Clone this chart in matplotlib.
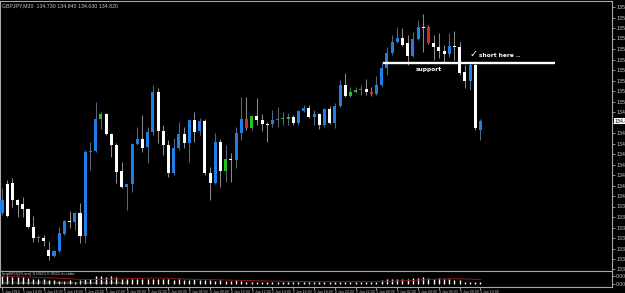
import matplotlib
matplotlib.use('Agg')
import matplotlib.pyplot as plt
import pandas as pd

# GBPJPY M30 candles
opens = [134.03, 133.87, 134.20, 134.03, 133.99, 133.94, 133.76, 133.65, 133.65, 133.53,
         133.47, 133.52, 133.69, 133.82, 133.81, 133.90, 133.67, 134.51, 134.52, 134.84,
         134.89, 134.69, 134.58, 134.32, 134.16, 134.19, 134.59, 134.64, 134.56, 134.71,
         135.11, 134.72, 134.58, 134.30, 134.55, 134.69, 134.60, 134.83, 134.72, 134.82,
         134.30, 134.20, 134.61, 134.32, 134.44, 134.43, 134.70, 134.84, 134.75, 134.87,
         134.83, 134.79, 134.79, 134.83, 134.84, 134.84, 134.86, 134.80, 134.92, 134.95,
         134.86, 134.89, 134.78, 134.94, 134.80, 134.97, 135.18, 135.07, 135.11, 135.13,
         135.14, 135.11, 135.09, 135.18, 135.35, 135.50, 135.61, 135.65, 135.60, 135.47,
         135.64, 135.76, 135.76, 135.60, 135.56, 135.52, 135.49, 135.57, 135.56, 135.31,
         135.22, 135.38, 134.73]
highs = [134.15, 134.23, 134.25, 134.04, 134.06, 133.95, 133.87, 133.68, 133.68, 133.62,
         133.53, 133.76, 133.83, 133.92, 133.91, 134.00, 134.53, 134.61, 135.01, 134.91,
         134.90, 134.70, 134.60, 134.41, 134.19, 134.60, 134.76, 134.88, 134.76, 135.18,
         135.15, 134.78, 134.63, 134.65, 134.81, 134.76, 134.83, 134.91, 134.85, 134.84,
         134.36, 134.70, 134.64, 134.58, 134.50, 134.76, 135.06, 135.06, 134.87, 135.05,
         134.89, 134.81, 134.93, 134.96, 134.91, 134.90, 134.88, 134.93, 134.98, 134.98,
         134.93, 134.90, 134.95, 134.97, 135.00, 135.23, 135.30, 135.16, 135.16, 135.18,
         135.24, 135.16, 135.27, 135.41, 135.56, 135.68, 135.76, 135.75, 135.68, 135.71,
         135.83, 135.89, 135.78, 135.68, 135.70, 135.58, 135.70, 135.72, 135.61, 135.38,
         135.40, 135.40, 134.84]
lows = [133.88, 133.86, 133.96, 133.86, 133.86, 133.75, 133.61, 133.61, 133.57, 133.43,
        133.46, 133.51, 133.68, 133.75, 133.73, 133.60, 133.60, 134.33, 134.51, 134.74,
        134.68, 134.46, 134.20, 134.15, 133.93, 134.11, 134.58, 134.51, 134.40, 134.68,
        134.60, 134.48, 134.26, 134.28, 134.53, 134.55, 134.41, 134.61, 134.68, 134.28,
        134.03, 134.19, 134.16, 134.21, 134.21, 134.35, 134.63, 134.73, 134.73, 134.78,
        134.72, 134.61, 134.76, 134.76, 134.78, 134.78, 134.78, 134.78, 134.91, 134.85,
        134.78, 134.74, 134.76, 134.79, 134.75, 134.96, 135.06, 135.06, 135.10, 135.08,
        135.08, 135.07, 135.08, 135.16, 135.28, 135.48, 135.60, 135.57, 135.38, 135.46,
        135.63, 135.51, 135.59, 135.43, 135.45, 135.41, 135.46, 135.43, 135.28, 135.15,
        135.13, 134.73, 134.63]
closes = [133.90, 134.19, 134.03, 133.98, 133.94, 133.76, 133.65, 133.66, 133.62, 133.47,
          133.52, 133.70, 133.82, 133.81, 133.90, 133.67, 134.51, 134.52, 134.84, 134.89,
          134.69, 134.58, 134.31, 134.16, 134.19, 134.59, 134.64, 134.55, 134.71, 135.11,
          134.72, 134.58, 134.30, 134.55, 134.69, 134.60, 134.83, 134.71, 134.82, 134.30,
          134.20, 134.61, 134.32, 134.44, 134.43, 134.70, 134.84, 134.75, 134.87, 134.83,
          134.79, 134.78, 134.83, 134.84, 134.85, 134.86, 134.80, 134.92, 134.95, 134.86,
          134.89, 134.78, 134.94, 134.80, 134.97, 135.18, 135.07, 135.11, 135.13, 135.14,
          135.11, 135.09, 135.18, 135.35, 135.50, 135.61, 135.65, 135.58, 135.47, 135.64,
          135.76, 135.75, 135.60, 135.56, 135.52, 135.49, 135.57, 135.56, 135.30, 135.22,
          135.38, 134.75, 134.82]
# b = up (blue), w = down (white), g / r = highlighted up / down
colours = list("bwwwwwwbww" "bbbwbwbbbg" "wwwwbbbwbb" "wwwbbwbwbw"
               "wbwgwbbrgw" "wwbbggwbbw" "bwbwbbwggb" "wrbbbbbwwb"
               "bwrwwwbwww" "bwb")

volumes = [0.0023, 0.0022, 0.0020, 0.0019, 0.0019, 0.0018,
           0.0016, 0.0015, 0.0014, 0.0012, 0.0012,
           0.00095, 0.00095, 0.0011, 0.0008, 0.0011,
           0.0016, 0.0015,
           0.0022, 0.0023, 0.0020, 0.0022, 0.0019,
           0.0016, 0.0016, 0.0015, 0.0016, 0.00135, 0.0016, 0.0015, 0.0016,
           0.00135, 0.00135, 0.0012, 0.00135, 0.0012, 0.0011, 0.00135, 0.0012,
           0.0011, 0.0011, 0.00095, 0.0011, 0.00095, 0.00095, 0.0011, 0.00095,
           0.0008, 0.0008, 0.0008, 0.0007, 0.0008, 0.0008, 0.0007, 0.0008, 0.0007,
           0.0008, 0.0008, 0.0007, 0.0008, 0.0007, 0.0008,
           0.0007, 0.0008, 0.0007, 0.0008, 0.0008, 0.0007, 0.0008, 0.0007, 0.0007,
           0.0008, 0.0008,
           0.0012, 0.00135, 0.00135, 0.0015, 0.00135, 0.0016,
           0.00175, 0.00175, 0.0019, 0.00175, 0.0016, 0.00175,
           0.0015, 0.00135, 0.0012, 0.0011,
           0.0008, 0.0008, 0.0007, 0.00055]

time_labels = ["1 Jun 2010", "1 Jun 14:00", "1 Jun 16:00", "1 Jun 18:00", "1 Jun 20:00",
               "1 Jun 22:00", "2 Jun 00:00", "2 Jun 02:00", "2 Jun 04:00", "2 Jun 06:00",
               "2 Jun 08:00", "2 Jun 10:00", "2 Jun 12:00", "2 Jun 14:00", "2 Jun 16:00",
               "2 Jun 18:00", "2 Jun 20:00", "2 Jun 22:00", "3 Jun 00:00", "3 Jun 02:00",
               "3 Jun 04:00", "3 Jun 06:00", "3 Jun 08:00", "3 Jun 10:00"]

support_level = 135.40
support_from, support_to = 73.3, 106.3

body_col = {'b': '#1f7fe6', 'w': '#ffffff', 'g': '#22c422', 'r': '#e02424'}
wick_col = {'b': '#56657a', 'w': '#8a8a8a', 'g': '#56657a', 'r': '#8a8a8a'}
frame = '#a8a8a8'
txt = '#c8c8c8'
small = 'Liberation Sans'

fig = plt.figure(figsize=(6.25, 2.93), dpi=100, facecolor='black')
W, H = 625.0, 293.0
ax = fig.add_axes([0, (H - 271) / H, 612 / W, 270 / H], facecolor='black')
axv = fig.add_axes([0, (H - 287) / H, 612 / W, 16 / H], facecolor='black', sharex=ax)

xs = list(range(len(opens)))
ax.vlines(xs, lows, highs, colors=[wick_col[c] for c in colours], lw=0.75, zorder=2)
bottoms = [min(o, c) for o, c in zip(opens, closes)]
heights = [max(abs(c - o), 0.01) for o, c in zip(opens, closes)]
ax.bar(xs, heights, bottom=bottoms, width=0.58, color=[body_col[c] for c in colours],
       linewidth=0, zorder=3)

ax.set_xlim(-0.385, 117.3)
ax.set_ylim(133.32, 136.02)

# support line and notes
ax.hlines(support_level, support_from, support_to, color='white', lw=1.7, zorder=4)
ax.text(82.1, support_level - 0.035, "support", color='white', fontsize=4.2,
        fontweight='bold', ha='center', va='top', zorder=5)
ax.text(90.0, support_level + 0.04, "\u2713", color='white', fontsize=7,
        fontweight='bold', ha='left', va='bottom', zorder=5)
ax.text(91.7, support_level + 0.05, "short here ..", color='white', fontsize=4.2,
        fontweight='bold', ha='left', va='bottom', zorder=5)

# price scale on the right (the label under the current-price box is left blank)
ticks = [round(135.960 - 0.105 * k, 3) for k in range(26)]
tick_txt = ["" if abs(t - closes[-1]) < 0.05 else "%.3f" % t for t in ticks]
ax.yaxis.tick_right()
ax.set_yticks(ticks)
ax.set_yticklabels(tick_txt, family=small)
ax.tick_params(axis='y', colors=frame, labelcolor=txt, labelsize=3.8, length=2,
               width=0.6, pad=1)
ax.tick_params(axis='x', length=0, labelbottom=False)
ax.text(1 + 2.5 / 612, closes[-1], "%.3f" % closes[-1], transform=ax.get_yaxis_transform(),
        fontsize=3.8, family=small, color='black', ha='left', va='center', zorder=6,
        bbox=dict(boxstyle='square,pad=0.15', fc='white', ec='none'))
ax.text(0.004, 0.993, "GBPJPY,M30  %.3f %.3f %.3f %.3f" % (opens[-1], highs[-1], lows[-1], closes[-1]),
        transform=ax.transAxes, fontsize=3.8, family=small, color=txt, ha='left', va='top')

# indicator sub-window
axv.vlines(xs, 0, volumes, colors='white', lw=1.0)
ma = pd.Series(volumes).rolling(14, min_periods=1).mean()
axv.plot(xs, ma, color='#8b1a1a', lw=0.7)
axv.set_ylim(-0.00068, 0.00365)
axv.yaxis.tick_right()
axv.set_yticks([0.0023, 0.0])
axv.set_yticklabels(["0.0023", "0.00"], family=small)
axv.tick_params(axis='y', colors=frame, labelcolor=txt, labelsize=3.6, length=2,
                width=0.6, pad=1)
axv.text(0.004, 0.93, "ImpBOI(20,sm) 0.0023 0.0021 ln ratio", transform=axv.transAxes,
         fontsize=3.2, family=small, color=txt, ha='left', va='top', zorder=5)
axv.text(0.004, 0.22, "SnR - initial value is 0.0021  initial value is  Fibre sum Limit Levels(cl)",
         transform=axv.transAxes, fontsize=3.0, family=small, color='#9a9a9a',
         ha='left', va='center', zorder=5)

axv.set_xticks(xs[::4])
axv.set_xticklabels(time_labels, ha='left', family=small)
axv.tick_params(axis='x', colors=frame, labelcolor=txt, labelsize=2.5, length=1.8,
                width=0.6, pad=0.6)

for a in (ax, axv):
    for s in a.spines.values():
        s.set_color(frame)
        s.set_linewidth(0.8)

fig.savefig("out.png", dpi=100, facecolor='black')
